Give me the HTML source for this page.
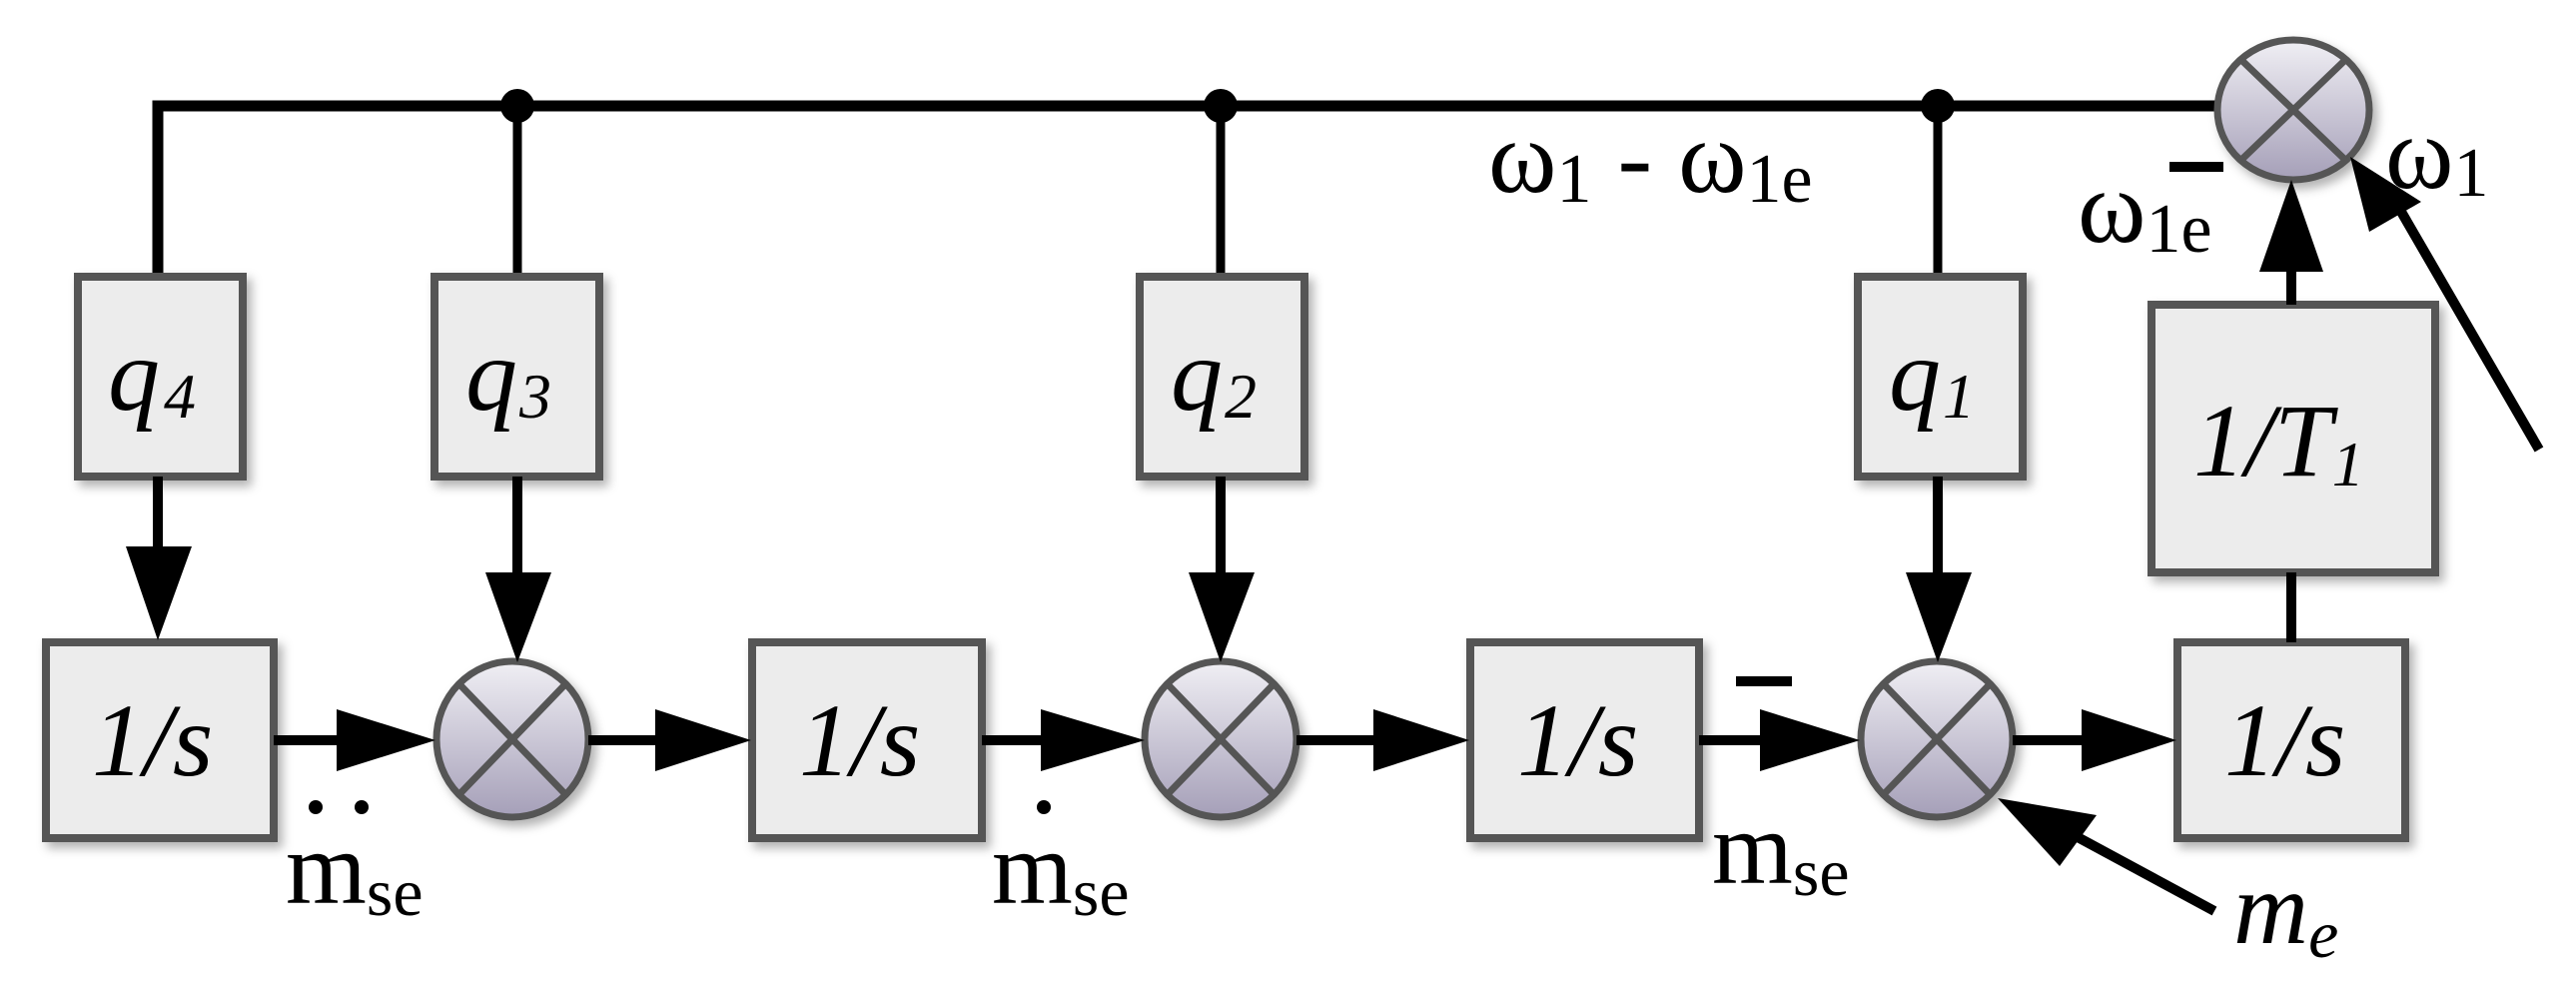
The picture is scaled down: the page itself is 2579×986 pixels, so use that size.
<!DOCTYPE html>
<html><head><meta charset="utf-8"><style>
html,body{margin:0;padding:0;background:#fff;}
svg{display:block;}
svg text{font-family:"Liberation Serif","DejaVu Serif",serif;fill:#000;}
</style></head><body>
<svg width="2579" height="986" viewBox="0 0 2579 986" xmlns="http://www.w3.org/2000/svg" font-family="Liberation Serif, DejaVu Serif, serif">
<defs>
<linearGradient id="cg" x1="0" y1="0" x2="0" y2="1">
<stop offset="0" stop-color="#f0eff4"/><stop offset="1" stop-color="#a59fb8"/>
</linearGradient>
<filter id="sh" x="-20%" y="-20%" width="150%" height="150%">
<feDropShadow dx="5" dy="6" stdDeviation="5" flood-color="#000" flood-opacity="0.3"/>
</filter>
</defs>

<polyline points="158,277 158,106 2222,106" fill="none" stroke="#000" stroke-width="11"/>
<line x1="518" y1="106" x2="518" y2="277" stroke="#000" stroke-width="9"/>
<line x1="1222" y1="106" x2="1222" y2="277" stroke="#000" stroke-width="9"/>
<line x1="1940" y1="106" x2="1940" y2="277" stroke="#000" stroke-width="9"/>
<circle cx="518" cy="106" r="17" fill="#000"/>
<circle cx="1222" cy="106" r="17" fill="#000"/>
<circle cx="1940" cy="106" r="17" fill="#000"/>

<g filter="url(#sh)" fill="#ececec" stroke="#555" stroke-width="8">
<rect x="78" y="277" width="165" height="200"/>
<rect x="435" y="277" width="165" height="200"/>
<rect x="1141" y="277" width="165" height="200"/>
<rect x="1860" y="277" width="165" height="200"/>
<rect x="2154" y="305" width="284" height="268"/>
<rect x="46" y="643" width="228" height="196"/>
<rect x="753" y="643" width="230" height="196"/>
<rect x="1472" y="643" width="229" height="196"/>
<rect x="2180" y="643" width="228" height="196"/>
</g>

<g filter="url(#sh)" fill="url(#cg)" stroke="#555" stroke-width="7">
<ellipse cx="513" cy="740" rx="76" ry="78"/>
<ellipse cx="1222" cy="740" rx="76" ry="78"/>
<ellipse cx="1939" cy="740" rx="76" ry="78"/>
<ellipse cx="2296" cy="110" rx="76" ry="70"/>
</g>
<g stroke="#555" stroke-width="7">
<line x1="461" y1="686" x2="565" y2="794"/><line x1="565" y1="686" x2="461" y2="794"/>
<line x1="1170" y1="686" x2="1274" y2="794"/><line x1="1274" y1="686" x2="1170" y2="794"/>
<line x1="1887" y1="686" x2="1991" y2="794"/><line x1="1991" y1="686" x2="1887" y2="794"/>
<line x1="2244" y1="60" x2="2348" y2="160"/><line x1="2348" y1="60" x2="2244" y2="160"/>
</g>

<g stroke="#000" stroke-width="10">
<line x1="158" y1="477" x2="158" y2="560"/>
<line x1="518" y1="477" x2="518" y2="580"/>
<line x1="1222" y1="477" x2="1222" y2="580"/>
<line x1="1940" y1="477" x2="1940" y2="580"/>
<line x1="274" y1="741" x2="345" y2="741"/>
<line x1="589" y1="741" x2="660" y2="741"/>
<line x1="983" y1="741" x2="1045" y2="741"/>
<line x1="1298" y1="741" x2="1380" y2="741"/>
<line x1="1701" y1="741" x2="1765" y2="741"/>
<line x1="2015" y1="741" x2="2090" y2="741"/>
<line x1="2294" y1="643" x2="2294" y2="573"/>
<line x1="2294" y1="305" x2="2294" y2="250"/>
<line x1="2542" y1="450" x2="2400" y2="205"/>
<line x1="2217" y1="912" x2="2080" y2="838"/>
</g>
<g fill="#000">
<polygon points="126,547 192,547 158,641"/>
<polygon points="486,573 552,573 518,663"/>
<polygon points="1190,573 1256,573 1222,663"/>
<polygon points="1908,573 1974,573 1940,663"/>
<polygon points="337,710 337,772 436,741"/>
<polygon points="656,710 656,772 752,741"/>
<polygon points="1042,710 1042,772 1146,741"/>
<polygon points="1375,710 1375,772 1471,741"/>
<polygon points="1762,710 1762,772 1862,741"/>
<polygon points="2084,710 2084,772 2179,741"/>
<polygon points="2262,272 2326,272 2294,180"/>
<polygon points="2372,232 2424,202 2353,157"/>
<polygon points="2062,867 2099,816 2000,799"/>
</g>

<g font-style="italic" font-size="104">
<text x="108" y="410">q<tspan font-size="64" dx="4" dy="8">4</tspan></text>
<text x="466" y="410">q<tspan font-size="64" dx="2" dy="8">3</tspan></text>
<text x="1172" y="410">q<tspan font-size="64" dx="2" dy="8">2</tspan></text>
<text x="1891" y="410">q<tspan font-size="64" dx="2" dy="8">1</tspan></text>
<text x="2196" y="476">1/T<tspan font-size="64" dy="10">1</tspan></text>
<text x="92" y="776">1/s</text>
<text x="800" y="776">1/s</text>
<text x="1519" y="776">1/s</text>
<text x="2227" y="776">1/s</text>
</g>

<g font-size="104">
<text x="1490" y="192">ω<tspan font-size="70" dy="10">1</tspan><tspan dy="-10"> - ω</tspan><tspan font-size="70" dy="10">1e</tspan></text>
<text x="2388" y="188">ω<tspan font-size="70" dy="8">1</tspan></text>
<text x="2080" y="242">ω<tspan font-size="70" dy="10">1e</tspan></text>
<text x="286" y="904">m<tspan font-size="68" dy="12">se</tspan></text>
<text x="993" y="904">m<tspan font-size="68" dy="12">se</tspan></text>
<text x="1714" y="884">m<tspan font-size="68" dy="12">se</tspan></text>
<text x="2236" y="944" font-style="italic">m<tspan font-size="68" dy="14">e</tspan></text>
</g>
<rect x="2172" y="162" width="54" height="10" fill="#000"/>
<rect x="1738" y="677" width="56" height="10" fill="#000"/>
<circle cx="316" cy="808" r="7" fill="#000"/>
<circle cx="362" cy="808" r="7" fill="#000"/>
<circle cx="1045" cy="808" r="7" fill="#000"/>
</svg>
</body></html>
